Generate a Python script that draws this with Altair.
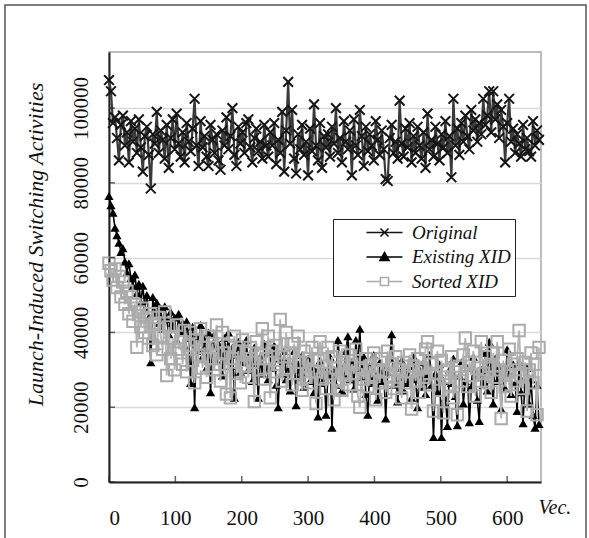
import altair as alt
import pandas as pd

series_names = ["Original", "Existing XID", "Sorted XID"]
vec = list(range(0, 651, 3))

original = [
    107500, 104500, 96000, 97500, 92000, 86000, 95500, 98000, 90000, 93500,
    85500, 96500, 91000, 94500, 88000, 97000, 89500, 83000, 92500, 95000,
    87500, 78500, 93000, 90500, 99000, 88000, 94000, 91500, 86500, 95500,
    84000, 92000, 97000, 89000, 98500, 90500, 87000, 93500, 85500, 96000,
    91000, 88500, 94500, 102500, 90000, 84500, 96500, 89500, 92500, 87000,
    84500, 95500, 91500, 88000, 93000, 86000, 83500, 94000, 90000, 97500,
    89000, 92500, 100000, 87500, 84500, 95000, 90500, 93500, 88000, 96000,
    97000, 89500, 85500, 92000, 94500, 88500, 91000, 86500, 95500, 90000,
    87000, 93500, 90000, 96000, 85000, 91500, 88000, 99000, 83000, 94000,
    107000, 90500, 99500, 86500, 82500, 93000, 89000, 95500, 87500, 91000,
    82000, 94500, 88500, 101000, 90000, 86000, 96000, 84000, 92500, 89500,
    93000, 87000, 95000, 90500, 100000, 88000, 92000, 85500, 96500, 91000,
    89000, 94000, 82000, 97000, 90000, 87500, 99500, 92500, 84500, 95000,
    88500, 93000, 90000, 86000, 96500, 91500, 87500, 94000, 89000, 81000,
    80500, 92000, 95500, 88000, 91000, 86500, 102000, 90500, 87000, 94500,
    89500, 96000, 85500, 92500, 88000, 95000, 90000, 86500, 93500, 84000,
    98500, 89000, 91500, 87000, 95000, 90500, 86000, 93000, 89500, 96500,
    88000, 92500, 81500, 102500, 90000, 94500, 87500, 96000, 91000, 98000,
    92500, 89000, 99500, 94000, 97000, 91000, 96000, 93000, 102500, 95500,
    98000, 104500, 93500, 104500, 97000, 101000, 92000, 99500, 95000, 85500,
    96000, 102500, 91000, 94500, 88000, 93000, 90500, 87000, 95500, 89000,
    92000, 88500, 87000, 96500, 90000, 94000, 91500,
]

existing = [
    76500, 74000, 72000, 68000, 66000, 64000, 61500, 62500, 59000, 56000,
    58500, 54500, 52500, 55500, 50500, 53000, 48000, 52500, 46500, 50000,
    44000, 32000, 49500, 45000, 48000, 42500, 46500, 41000, 47000, 43500,
    39500, 45500, 41500, 44000, 38000, 45000, 40000, 42500, 36500, 43000,
    38500, 26500, 41500, 20000, 39000, 35000, 42000, 33500, 38000, 30500,
    40000, 24000, 36500, 39500, 32500, 37000, 34500, 28500, 38500, 33000,
    40000, 31000, 36000, 22500, 34000, 37500, 29500, 35500, 32000, 38000,
    30000, 34500, 27000, 36000, 31500, 22500, 33500, 29000, 37000, 31000,
    27500, 34500, 30500, 36500, 26000, 20000, 33000, 29000, 35000, 27500,
    32500, 24500, 30000, 35000, 20500, 31500, 28000, 34000, 25500, 30500,
    33000, 27000, 31000, 24000, 29500, 17500, 32500, 26500, 30000, 18000,
    28500, 33500, 14500, 30000, 26000, 38000, 31500, 24500, 29000, 35000,
    39000, 27500, 32000, 25000, 38000, 30500, 41000, 28000, 33500, 23500,
    18000, 31000, 26500, 34000, 28500, 22000, 32000, 27000, 30000, 17000,
    29500, 33000, 39500, 26000, 30500, 21500, 28000, 32500, 24500, 29000,
    26500, 31000, 22500, 33500, 27500, 20000, 30000, 25500, 32000, 23500,
    28500, 34000, 26000, 12000, 29000, 24000, 31500, 12000, 27000, 22500,
    15000, 30000, 26500, 33000, 23000, 15200, 28500, 32000, 21000, 27000,
    30500, 16000, 25500, 33500, 28000, 22000, 16300, 30000, 26000, 34500,
    24500, 37500, 29500, 21000, 33000, 27000, 31000, 19500, 28500, 25000,
    35500, 29000, 23500, 31500, 26500, 19000, 32000, 24000, 15700, 28000,
    30500, 21000, 27500, 18000, 14500, 26000, 15500,
]

sorted_xid = [
    58500, 56500, 54000, 57000, 52000, 55000, 49500, 53500, 47500, 51000,
    45000, 49500, 43000, 47500, 36000, 45500, 41500, 46500, 40000, 44000,
    38500, 45000, 36500, 42500, 34000, 44000, 39000, 35500, 45500, 28500,
    41500, 33000, 38500, 30000, 42000, 35500, 37500, 31500, 40500, 29500,
    36500, 40000, 32500, 26500, 38000, 34000, 41000, 30500, 36000, 28000,
    39000, 33000, 37000, 30000, 42000, 31500, 27000, 40000, 34500, 23500,
    36500, 22500, 33000, 39000, 29000, 35000, 26500, 38000, 31000, 34500,
    28000, 36000, 32000, 21500, 37500, 30000, 34000, 41000, 27500, 33000,
    39000, 22500, 35000, 29500, 36500, 31500, 43500, 27000, 33500, 40000,
    30500, 34500, 26000, 37000, 29000, 39000, 32000, 24500, 35000, 28000,
    33000, 26500, 36000, 29500, 21000, 32500, 37500, 27500, 31000, 25000,
    36000, 29000, 33500, 22000, 30500, 27000, 35000, 24500, 32000, 28500,
    34000, 26000, 31500, 29000, 35500, 23000, 20000, 30500, 27500, 33000,
    25500, 31000, 28000, 34500, 22000, 30000, 26500, 33000, 29500, 24000,
    35000, 28500, 31500, 25000, 33500, 27000, 30000, 22500, 32000, 26500,
    29500, 34000, 19500, 31000, 27000, 33000, 24000, 30500, 28000, 35500,
    37500, 26000, 31500, 19000, 29000, 35000, 24500, 32500, 18500, 28000,
    30000, 26000, 33500, 22500, 29500, 18000, 31000, 27000, 34000, 38500,
    25500, 32000, 28500, 35000, 23000, 30500, 27000, 37500, 29000, 33500,
    26500, 31000, 24000, 34500, 28000, 37500, 30000, 17000, 32500, 25500,
    29500, 35500, 23000, 31500, 27000, 33000, 40500, 28500, 25000, 32000,
    19000, 30000, 34500, 26500, 31500, 18000, 36000,
]

y_ticks = [0, 20000, 40000, 60000, 80000, 100000]
x_ticks = [0, 100, 200, 300, 400, 500, 600]

line_colors = ["#3a3a3a", "#000000", "#b4b4b4"]
marker_colors = ["#151515", "#000000", "#ababab"]
legend_fills = ["transparent", "#000000", "#ffffff"]
legend_paths = [
    "M-4,0H4M-0.9,-0.9L0.9,0.9M-0.9,0.9L0.9,-0.9M22.5,0",
    "M-4,0H4M0,-1L1,0.75L-1,0.75ZM22.5,0",
    "M-4,0H-0.9M0.9,0H4M-0.9,-0.9H0.9V0.9H-0.9ZM22.5,0",
]

df = pd.DataFrame({
    "vec": vec * 3,
    "value": original + existing + sorted_xid,
    "series": [n for n in series_names for _ in vec],
})

FONT = "Liberation Serif"

x_axis = alt.Axis(values=x_ticks, format="d", title="Vec.", grid=False, ticks=False,
                  tickSize=0, labelPadding=36, labelBaseline="middle", labelFontSize=21,
                  titleX=429, titleY=25, titleAlign="left", titleBaseline="middle",
                  titleAngle=0, titleFontStyle="italic", titleFontWeight="normal",
                  titleFontSize=20)
y_axis = alt.Axis(values=y_ticks, format="d", title="Launch-Induced Switching Activities",
                  grid=True, ticks=False, tickSize=0, labelAngle=270,
                  labelAlign="center", labelBaseline="middle", labelPadding=28,
                  labelFontSize=21, labelOverlap=False,
                  titleX=-74, titleY=192, titleAngle=270, titleAlign="center",
                  titleBaseline="middle", titleFontStyle="italic",
                  titleFontWeight="normal", titleFontSize=22)

x_enc = alt.X("vec:Q", scale=alt.Scale(domain=[0, 651], nice=False, zero=False), axis=x_axis)
y_enc = alt.Y("value:Q", scale=alt.Scale(domain=[0, 115000], nice=False), axis=y_axis)

base = alt.Chart(df)

frame = alt.Chart(pd.DataFrame({"series": series_names[:1]})).mark_rect(
    fillOpacity=0, stroke="#555555", strokeWidth=1.5
).encode(x=alt.value(-104), x2=alt.value(477), y=alt.value(-47), y2=alt.value(493))

layers = [frame]
shapes = ["M-1,-1L1,1M-1,1L1,-1", "triangle-up", "square"]
line_widths = [2.2, 1.6, 1.8]
for i, name in enumerate(series_names):
    sub = base.transform_filter(alt.datum.series == name)
    line = sub.mark_line(color=line_colors[i], strokeWidth=line_widths[i]).encode(x=x_enc, y=y_enc)
    if i == 1:
        pts = sub.mark_point(shape=shapes[i], filled=True, color=marker_colors[i],
                             size=85, opacity=1)
    else:
        pts = sub.mark_point(shape=shapes[i], filled=False, color=marker_colors[i],
                             size=95 if i == 0 else 130, strokeWidth=2.0, opacity=1)
    pts = pts.encode(x=x_enc, y=y_enc)
    layers += [line, pts]

tick_x = alt.Chart(pd.DataFrame({"vec": x_ticks})).mark_tick(
    color="#222222", thickness=1.5, size=6
).encode(x=x_enc, y=alt.value(427))
tick_y = alt.Chart(pd.DataFrame({"value": y_ticks})).mark_tick(
    color="#222222", thickness=1.5, size=6
).encode(y=y_enc, x=alt.value(3))

leg = alt.Legend(title=None, orient="none", legendX=224, legendY=167,
                 padding=4, strokeColor="#222222", fillColor="white",
                 labelFont=FONT, labelFontStyle="italic", labelFontSize=19,
                 labelColor="#111111", symbolSize=81, symbolStrokeWidth=1.6,
                 symbolOffset=38, labelOffset=18, rowPadding=4.5, symbolOpacity=1)

legend_layer = alt.Chart(pd.DataFrame({"series": series_names})).mark_point(
    size=81, strokeWidth=1.6
).encode(
    x=alt.value(-600), y=alt.value(-600),
    stroke=alt.Stroke("series:N", scale=alt.Scale(domain=series_names, range=marker_colors), legend=leg),
    fill=alt.Fill("series:N", scale=alt.Scale(domain=series_names, range=legend_fills), legend=leg),
    shape=alt.Shape("series:N", scale=alt.Scale(domain=series_names, range=legend_paths), legend=leg),
)

layers += [tick_x, tick_y, legend_layer]

chart = alt.layer(*layers).properties(
    width=432, height=430,
    padding={"left": 109, "top": 52, "right": 48, "bottom": 56},
    autosize=alt.AutoSizeParams(type="none"),
    background="white",
).configure_view(
    stroke="#a6a6a6", strokeWidth=1.5
).configure_axis(
    labelFont=FONT, titleFont=FONT, labelColor="#111111", titleColor="#111111",
    domainColor="#222222", domainWidth=2, gridColor="#d9d9d9", gridWidth=1.5,
)

chart.save("out.html", embed_options={"renderer": "svg", "actions": False})
